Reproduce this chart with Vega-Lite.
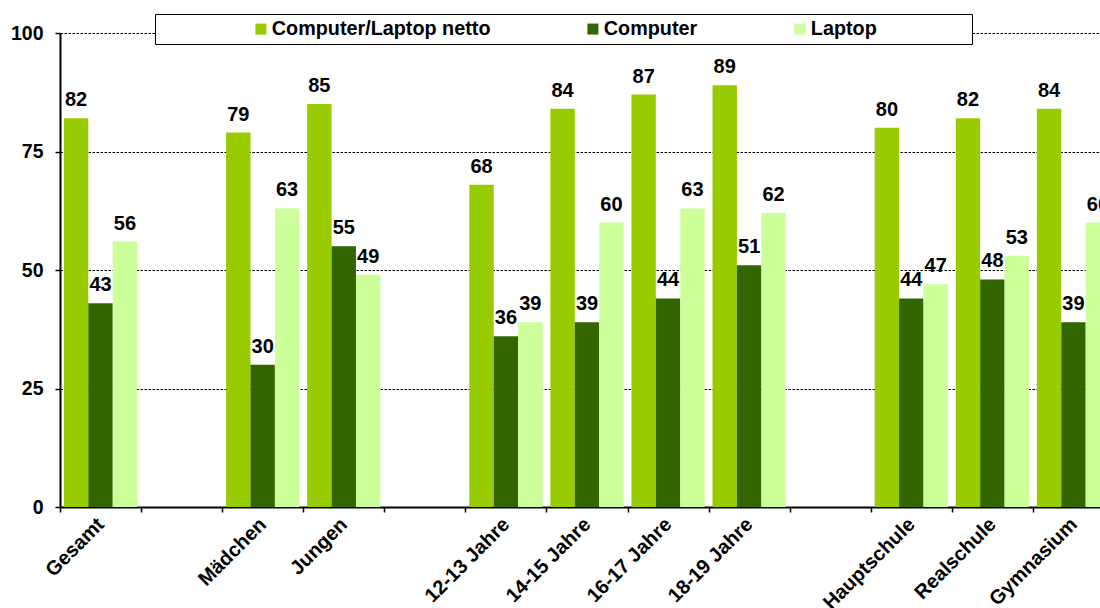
{
  "$schema": "https://vega.github.io/schema/vega-lite/v6.json",
  "autosize": {"type": "none"},
  "padding": {"left": 60, "top": 33, "right": 0, "bottom": 101},
  "width": 1040,
  "height": 474,
  "background": "white",
  "config": {
    "view": {"stroke": null},
    "font": "Liberation Sans",
    "axis": {"labelFont": "Liberation Sans", "labelFontWeight": "bold", "labelColor": "black"}
  },
  "data": {
    "values": [
      {"group": "Gesamt", "series": "Computer/Laptop netto", "value": 82},
      {"group": "Gesamt", "series": "Computer", "value": 43},
      {"group": "Gesamt", "series": "Laptop", "value": 56},
      {"group": "Mädchen", "series": "Computer/Laptop netto", "value": 79},
      {"group": "Mädchen", "series": "Computer", "value": 30},
      {"group": "Mädchen", "series": "Laptop", "value": 63},
      {"group": "Jungen", "series": "Computer/Laptop netto", "value": 85},
      {"group": "Jungen", "series": "Computer", "value": 55},
      {"group": "Jungen", "series": "Laptop", "value": 49},
      {"group": "12-13 Jahre", "series": "Computer/Laptop netto", "value": 68},
      {"group": "12-13 Jahre", "series": "Computer", "value": 36},
      {"group": "12-13 Jahre", "series": "Laptop", "value": 39},
      {"group": "14-15 Jahre", "series": "Computer/Laptop netto", "value": 84},
      {"group": "14-15 Jahre", "series": "Computer", "value": 39},
      {"group": "14-15 Jahre", "series": "Laptop", "value": 60},
      {"group": "16-17 Jahre", "series": "Computer/Laptop netto", "value": 87},
      {"group": "16-17 Jahre", "series": "Computer", "value": 44},
      {"group": "16-17 Jahre", "series": "Laptop", "value": 63},
      {"group": "18-19 Jahre", "series": "Computer/Laptop netto", "value": 89},
      {"group": "18-19 Jahre", "series": "Computer", "value": 51},
      {"group": "18-19 Jahre", "series": "Laptop", "value": 62},
      {"group": "Hauptschule", "series": "Computer/Laptop netto", "value": 80},
      {"group": "Hauptschule", "series": "Computer", "value": 44},
      {"group": "Hauptschule", "series": "Laptop", "value": 47},
      {"group": "Realschule", "series": "Computer/Laptop netto", "value": 82},
      {"group": "Realschule", "series": "Computer", "value": 48},
      {"group": "Realschule", "series": "Laptop", "value": 53},
      {"group": "Gymnasium", "series": "Computer/Laptop netto", "value": 84},
      {"group": "Gymnasium", "series": "Computer", "value": 39},
      {"group": "Gymnasium", "series": "Laptop", "value": 60}
    ]
  },
  "encoding": {
    "x": {
      "field": "group",
      "type": "nominal",
      "title": null,
      "scale": {
        "domain": ["Gesamt", " ", "Mädchen", "Jungen", "  ", "12-13 Jahre", "14-15 Jahre", "16-17 Jahre", "18-19 Jahre", "   ", "Hauptschule", "Realschule", "Gymnasium"],
        "range": [0, 1054],
        "paddingInner": 0,
        "paddingOuter": 0
      },
      "axis": {
        "labelAngle": -45,
        "labelAlign": "right",
        "labelBaseline": "middle",
        "labelFontSize": 20,
        "labelPadding": 9,
        "tickBand": "extent",
        "tickSize": 5,
        "tickColor": "black",
        "tickWidth": 1.5,
        "domainColor": "black",
        "domainWidth": 2,
        "grid": false
      }
    },
    "xOffset": {
      "field": "series",
      "type": "nominal",
      "scale": {
        "domain": ["Computer/Laptop netto", "Computer", "Laptop"],
        "paddingInner": 0,
        "paddingOuter": 0.16
      }
    },
    "y": {
      "field": "value",
      "type": "quantitative",
      "title": null,
      "scale": {"domain": [0, 100], "nice": false},
      "axis": {
        "values": [0, 25, 50, 75, 100],
        "labelFontSize": 19.5,
        "labelPadding": 12,
        "tickSize": 5,
        "tickColor": "black",
        "tickWidth": 1.5,
        "domainColor": "black",
        "domainWidth": 2,
        "grid": true,
        "gridColor": "black",
        "gridWidth": 1,
        "gridDash": [2.5, 1.5]
      }
    }
  },
  "layer": [
    {
      "mark": {"type": "bar"},
      "encoding": {
        "color": {
          "field": "series",
          "type": "nominal",
          "scale": {
            "domain": ["Computer/Laptop netto", "Computer", "Laptop"],
            "range": ["#99CC00", "#336600", "#CCFF99"]
          },
          "legend": {
            "orient": "none",
            "legendX": 95,
            "legendY": -19,
            "direction": "horizontal",
            "columns": 3,
            "title": "\u00a0",
            "titleOrient": "left",
            "titleFontSize": 19,
            "titlePadding": 91,
            "symbolType": "square",
            "symbolSize": 121,
            "symbolStrokeWidth": 0,
            "labelFont": "Liberation Sans",
            "labelFontWeight": "bold",
            "labelFontSize": 19.8,
            "labelColor": "black",
            "labelOffset": 1,
            "labelLimit": 0,
            "labelExpr": "datum.value == 'Laptop' ? 'Laptop' + '\u2800\u2800\u2800\u2800\u2800\u2800' : datum.label",
            "columnPadding": 92,
            "padding": 5,
            "strokeColor": "black",
            "fillColor": "white"
          }
        }
      }
    },
    {
      "mark": {"type": "text", "baseline": "bottom", "dy": -8, "fontSize": 20, "fontWeight": "bold", "font": "Liberation Sans", "color": "black"},
      "encoding": {
        "text": {"field": "value", "type": "quantitative"}
      }
    }
  ]
}
